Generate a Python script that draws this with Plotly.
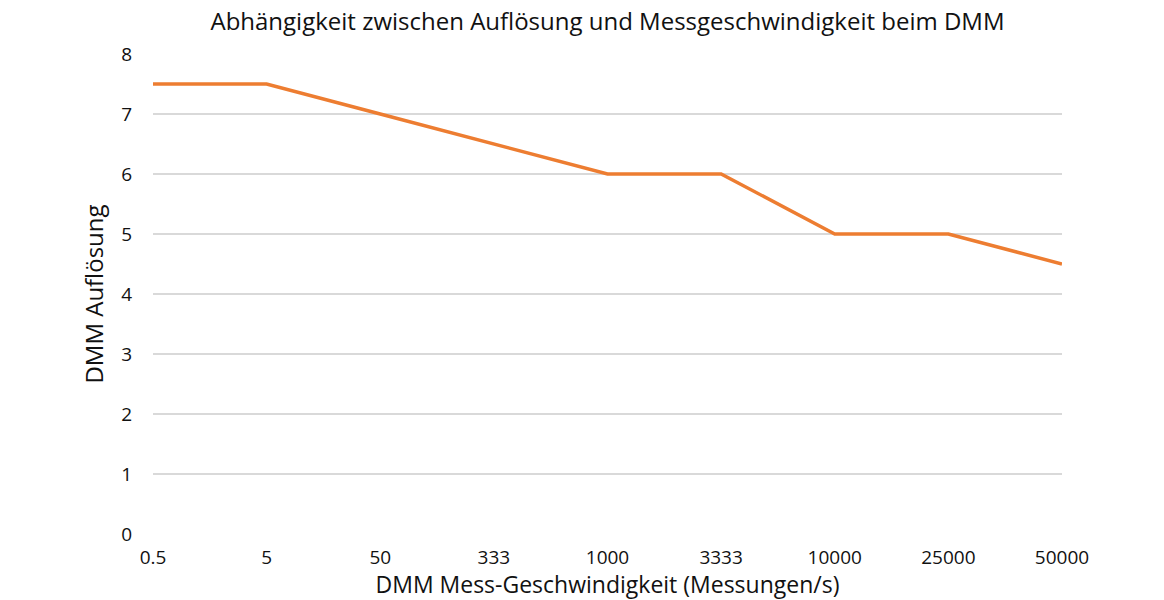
import plotly.graph_objects as go

# Data
speeds = ['0.5', '5', '50', '333', '1000', '3333', '10000', '25000', '50000']
resolution = [7.5, 7.5, 7, 6.5, 6, 6, 5, 5, 4.5]
y_ticks = [0, 1, 2, 3, 4, 5, 6, 7, 8]

fig = go.Figure()

fig.add_trace(go.Scatter(
    x=speeds,
    y=resolution,
    mode='lines',
    line=dict(color='#ED7D31', width=3.5),
    showlegend=False
))

# page puts the plot 8px in from the top-left, so the figure is 8px smaller
fig.update_layout(
    width=1156,
    height=592,
    margin=dict(l=145, r=102, t=46, b=66),
    paper_bgcolor='white',
    plot_bgcolor='white',
    font=dict(family='Open Sans', color='#111111'),
    title=dict(
        text='Abhängigkeit zwischen Auflösung und Messgeschwindigkeit beim DMM',
        x=0.5, xanchor='center', xref='paper',
        y=1 - 14 / 592, yanchor='middle', yref='container',
        font=dict(size=24, color='#111111')
    ),
    xaxis=dict(
        type='category',
        range=[0, len(speeds) - 1],
        showgrid=False,
        showline=False,
        zeroline=False,
        tickfont=dict(size=19, color='#111111'),
        ticklabelstandoff=10,
        title=dict(text='DMM Mess-Geschwindigkeit (Messungen/s)',
                   font=dict(size=23, color='#111111'), standoff=3)
    ),
    yaxis=dict(
        range=[0, 8],
        tickvals=y_ticks,
        showgrid=True,
        gridcolor='#D9D9D9',
        gridwidth=1.5,
        zeroline=False,
        showline=False,
        tickfont=dict(size=19, color='#111111'),
        ticklabelstandoff=20,
        title=dict(text='DMM Auflösung', font=dict(size=24, color='#111111'), standoff=10)
    )
)

fig.write_html("out.html")
